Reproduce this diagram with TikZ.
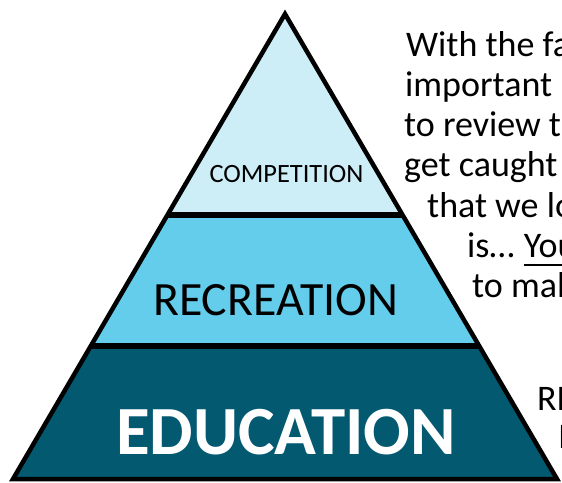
\documentclass[tikz,border=0pt]{standalone}
\usepackage{fontspec}
\setmainfont{Carlito}
\usetikzlibrary{calc}
\definecolor{toplight}{HTML}{CDEDF7}
\definecolor{midblue}{HTML}{64CDEC}
\definecolor{deepteal}{HTML}{025970}
\begin{document}
\begin{tikzpicture}[x=1pt,y=-1pt,
    band/.style={draw=none},
    notes/.style={anchor=base west,inner sep=0pt,font=\fontsize{36}{40}\selectfont}]
    \useasboundingbox (0,0) rectangle (562,482);
    \clip (0,0) rectangle (562,482);
    \coordinate (apex) at (285,14);
    \coordinate (bl) at (13,479);
    \coordinate (br) at (557,479);
    \coordinate (l1) at ($(apex)!0.4323!(bl)$);
    \coordinate (r1) at ($(apex)!0.4323!(br)$);
    \coordinate (l2) at ($(apex)!0.714!(bl)$);
    \coordinate (r2) at ($(apex)!0.714!(br)$);
    % bands
    \fill[band,toplight] (apex) -- (l1) -- (r1) -- cycle;
    \fill[band,midblue] (l1) -- (r1) -- (r2) -- (l2) -- cycle;
    \fill[band,deepteal] (l2) -- (r2) -- (br) -- (bl) -- cycle;
    \draw[line width=6.5pt] (l1) -- (r1);
    \draw[line width=6.5pt] (l2) -- (r2);
    \draw[line width=4.5pt,line join=miter] (apex) -- (bl) -- (br) -- cycle;
    % band labels
    \node[anchor=base,inner sep=0pt,font=\fontsize{26.4}{30}\selectfont] (comp) at (286.5,182) {COMPETITION};
    \node[anchor=base,inner sep=0pt,font=\fontsize{47.8}{55}\selectfont] (rec) at (275.5,315) {RECREATION};
    \node[anchor=base,inner sep=0pt,text=white,font=\fontsize{69}{80}\selectfont\bfseries] (edu) at (286,454) {EDUCATION};
    % side text
    \node[notes] (t1) at (406,56) {With the fa};
    \node[notes] (t2) at (405,96.3) {important};
    \node[notes] (t3) at (404,136.6) {to review t};
    \node[notes] (t4) at (404,176.9) {get caught};
    \node[notes] (t5) at (427,217.2) {that we lo};
    \node[notes] (t6) at (467,257.5) {is…};
    \node[notes] (you) at ([xshift=9pt]t6.base east) {You};
    \draw[line width=2pt] ([yshift=-7pt]you.base west) -- ([yshift=-7pt]you.base east);
    \node[notes] (t7) at (472,297.8) {to mal};
    \node[notes] (t8) at (537,410) {RE};
    \node[notes] (t9) at (558,448) {I};
\end{tikzpicture}
\end{document}
